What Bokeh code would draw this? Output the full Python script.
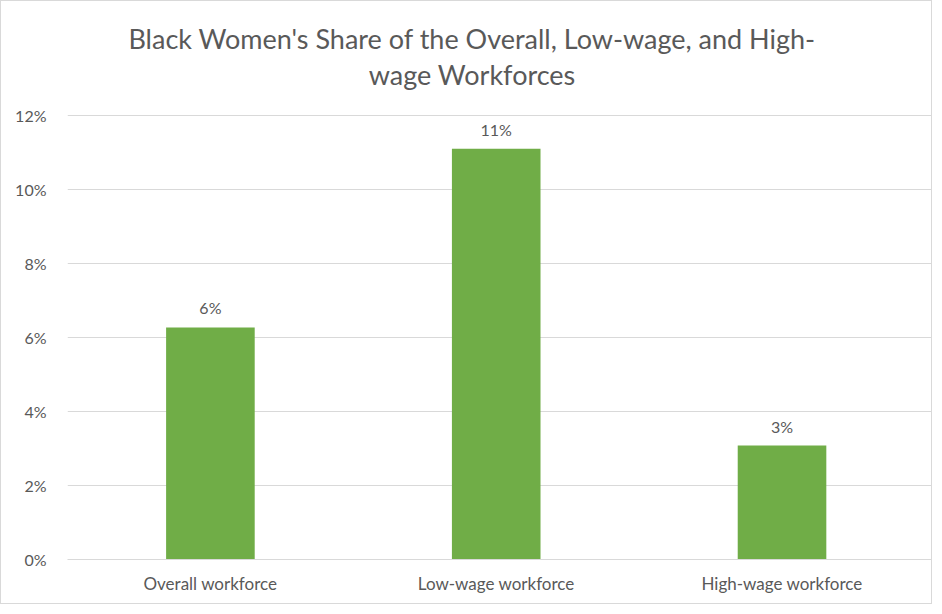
from bokeh.plotting import figure
from bokeh.models import Range1d, FixedTicker, NumeralTickFormatter, ColumnDataSource, Label
from bokeh.core.properties import value
from bokeh.embed import file_html
from bokeh.resources import INLINE

categories = ["Overall workforce", "Low-wage workforce", "High-wage workforce"]
shares = [0.0627, 0.111, 0.0308]
bar_labels = ["6%", "11%", "3%"]
y_ticks = [0.0, 0.02, 0.04, 0.06, 0.08, 0.10, 0.12]
title_lines = ["Black Women's Share of the Overall, Low-wage, and High-", "wage Workforces"]

FONT = "Lato"
TXT = "#595959"
GRID = "#d9d9d9"

xs = list(range(len(categories)))
src = ColumnDataSource(dict(x=xs, top=shares, lab=bar_labels))

# the frame reaches the top of the chart box so the title can sit inside it
p = figure(width=932, height=604, output_backend="svg", toolbar_location=None,
           x_range=Range1d(-0.5, 2.53), y_range=Range1d(0, 0.1508),
           min_border_left=66, min_border_right=0, min_border_top=0, min_border_bottom=46)
p.styles = {"border": "1px solid #d9d9d9"}
p.outline_line_color = None
p.background_fill_color = "white"
p.border_fill_color = "white"

title_x = 0.916
title_ys = [0.1408, 0.1311]
for txt, ty in zip(title_lines, title_ys):
    p.add_layout(Label(x=title_x, y=ty, text=txt, text_align="center", text_baseline="middle",
                       text_font=FONT, text_font_size="27px", text_color=TXT))

p.vbar(x="x", top="top", width=0.31, source=src, color="#70AD47", line_color=None)
p.text(x="x", y="top", text="lab", source=src, text_align="center", text_baseline="bottom",
       y_offset=-10, text_font=value(FONT), text_font_size="16px", text_color=TXT)

p.yaxis.ticker = FixedTicker(ticks=y_ticks)
p.yaxis.formatter = NumeralTickFormatter(format="0%")
p.yaxis.axis_line_color = None
p.yaxis.major_tick_line_color = None
p.yaxis.minor_tick_line_color = None
p.yaxis.major_label_standoff = 15
p.yaxis.major_label_text_font = FONT
p.yaxis.major_label_text_font_size = "16px"
p.yaxis.major_label_text_color = TXT

p.xaxis.ticker = FixedTicker(ticks=xs)
p.xaxis.major_label_overrides = {i: c for i, c in enumerate(categories)}
p.xaxis.axis_line_color = GRID
p.xaxis.major_tick_line_color = None
p.xaxis.minor_tick_line_color = None
p.xaxis.major_label_standoff = 7
p.xaxis.major_label_text_font = FONT
p.xaxis.major_label_text_font_size = "17px"
p.xaxis.major_label_text_color = TXT

p.xgrid.grid_line_color = None
p.ygrid.grid_line_color = GRID
p.ygrid.ticker = FixedTicker(ticks=y_ticks)

open("out.html", "w").write(file_html(p, INLINE))
